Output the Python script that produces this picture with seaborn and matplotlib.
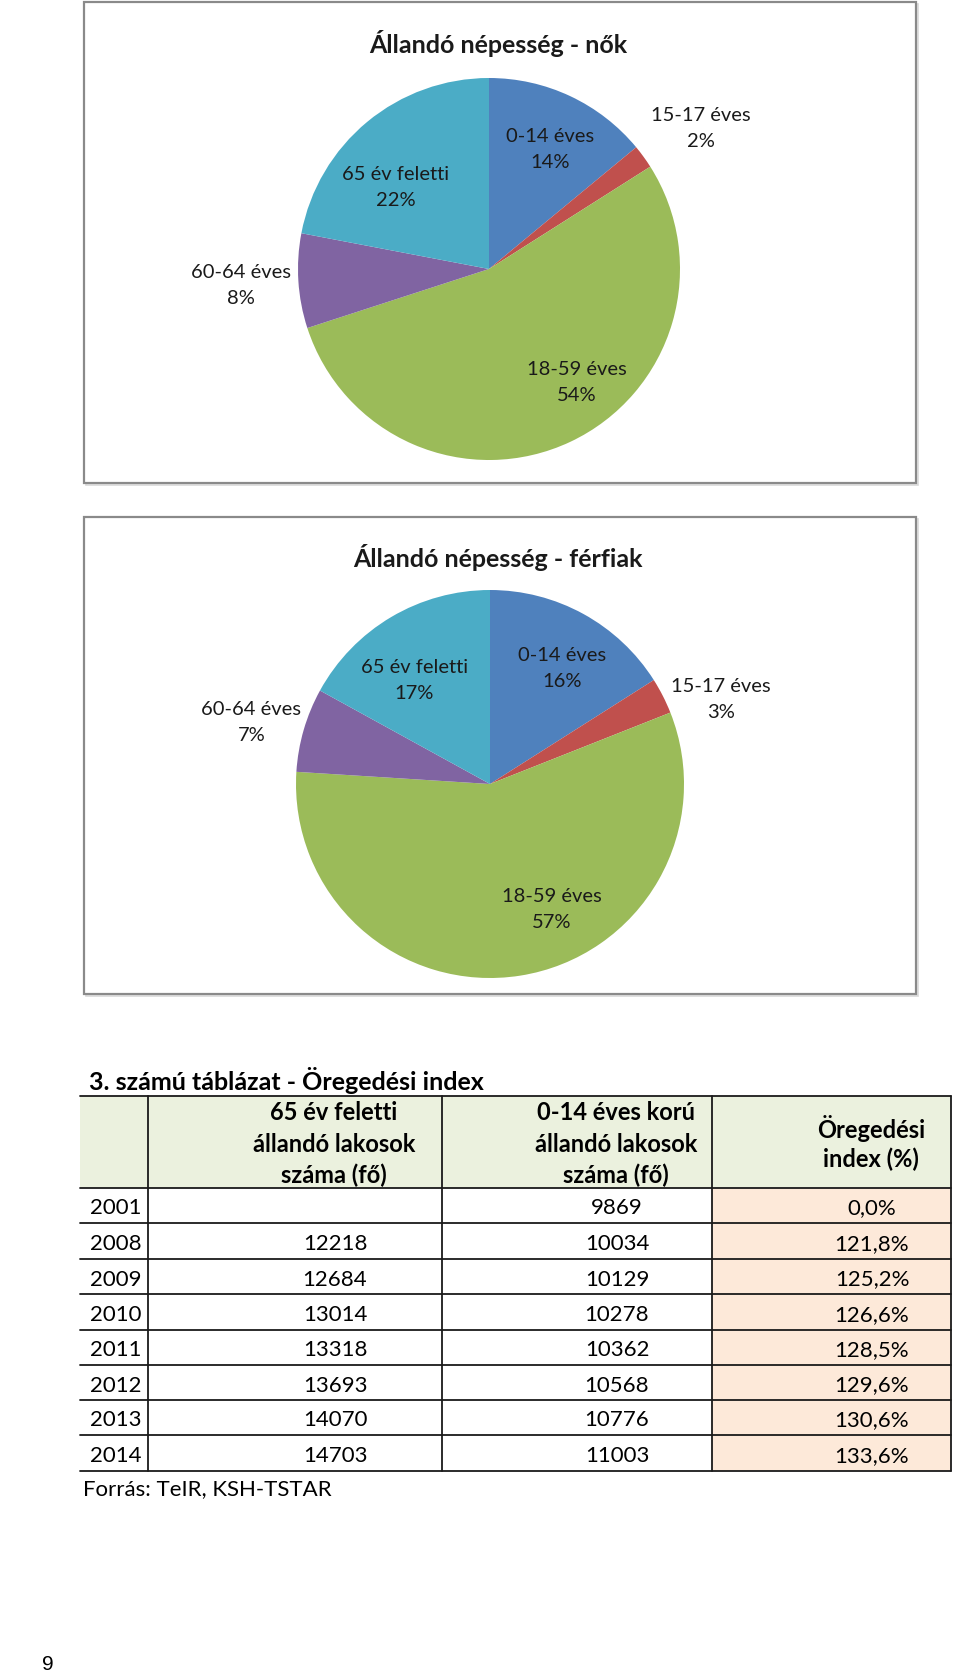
import matplotlib
matplotlib.use("Agg")
import matplotlib.pyplot as plt
from matplotlib.patches import Rectangle
import seaborn as sns
import pandas as pd

# ---------------- data ----------------
age_groups = ["0-14 éves", "15-17 éves", "18-59 éves", "60-64 éves", "65 év feletti"]
women_pct = [14, 2, 54, 8, 22]
men_pct = [16, 3, 57, 7, 17]
pie_titles = ["Állandó népesség - nők", "Állandó népesség - férfiak"]
slice_colors = ["#4F81BD", "#C0504D", "#9BBB59", "#8064A2", "#4BACC6"]

table_title = "3. számú táblázat - Öregedési index"
table_headers = ["", "65 év feletti\nállandó lakosok\nszáma (fő)",
                 "0-14 éves korú\nállandó lakosok\nszáma (fő)", "Öregedési\nindex (%)"]
years = ["2001", "2008", "2009", "2010", "2011", "2012", "2013", "2014"]
over65 = ["", "12218", "12684", "13014", "13318", "13693", "14070", "14703"]
under14 = ["9869", "10034", "10129", "10278", "10362", "10568", "10776", "11003"]
aging_index = ["0,0%", "121,8%", "125,2%", "126,6%", "128,5%", "129,6%", "130,6%", "133,6%"]
source_note = "Forrás: TeIR, KSH-TSTAR"
page_number = "9"

# ---------------- style ----------------
sns.set_theme(style="white")
plt.rcParams["font.family"] = ["Lato", "DejaVu Sans"]
palette = sns.color_palette(slice_colors)

W, H = 960, 1674
fig = plt.figure(figsize=(W / 100, H / 100), dpi=100)
bg = fig.add_axes([0, 0, 1, 1])
bg.set_xlim(0, W)
bg.set_ylim(H, 0)
bg.axis("off")

# label layouts (relative to pie radius)
women_label_pos = [(0.32, 0.63), (1.11, 0.74), (0.46, -0.59), (-1.30, -0.08), (-0.49, 0.43)]
men_label_pos = [(0.37, 0.60), (1.19, 0.44), (0.32, -0.64), (-1.23, 0.32), (-0.39, 0.54)]

charts = [
    dict(frame=(84, 3, 832, 481), title_y=43, cx=489, cy=270, r=191,
         values=women_pct, labels=women_label_pos, title=pie_titles[0]),
    dict(frame=(84, 518, 832, 477), title_y=557, cx=490, cy=785, r=194,
         values=men_pct, labels=men_label_pos, title=pie_titles[1]),
]

for ch in charts:
    x0, y0, w, h = ch["frame"]
    bg.add_patch(Rectangle((x0 + 2, y0 + 2), w, h, facecolor="none",
                           edgecolor="#d9d9d9", linewidth=1.2, zorder=1))
    bg.add_patch(Rectangle((x0, y0), w, h, facecolor="white",
                           edgecolor="#8a8a8a", linewidth=1.6, zorder=2))
    bg.text(498, ch["title_y"], ch["title"], ha="center", va="center",
            fontsize=18, fontweight="bold", color="#1a1a1a", zorder=3)
    cx, cy, r = ch["cx"], ch["cy"], ch["r"]
    ax = fig.add_axes([(cx - r) / W, (H - cy - r) / H, 2 * r / W, 2 * r / H])
    ax.pie(ch["values"], colors=palette, startangle=90, counterclock=False,
           radius=1, wedgeprops=dict(linewidth=0))
    ax.set_xlim(-1, 1)
    ax.set_ylim(-1, 1)
    ax.set_aspect("auto")
    ax.axis("off")
    for name, val, (lx, ly) in zip(age_groups, ch["values"], ch["labels"]):
        ax.text(lx, ly, f"{name}\n{val}%", ha="center", va="center",
                fontsize=14.5, color="#1a1a1a", linespacing=1.65, clip_on=False)

# ---------------- table ----------------
df = pd.DataFrame({"year": years, "over65": over65, "under14": under14, "index": aging_index})

col_edges = [80, 148, 442, 712, 951]
row_edges = [1097, 1189, 1224, 1260, 1295, 1331, 1366, 1401, 1436, 1472]
header_fill = "#EBF1DE"
index_fill = "#FDE9D9"
fs = 16
base_off = 8  # baseline offset below row middle (px)

bg.text(89, 1081, table_title, ha="left", va="center", fontsize=18,
        fontweight="bold", color="#000000")

# header background
bg.add_patch(Rectangle((col_edges[0], row_edges[0]), col_edges[-1] - col_edges[0],
                       row_edges[1] - row_edges[0], facecolor=header_fill,
                       edgecolor="none", zorder=1))
# index column background
bg.add_patch(Rectangle((col_edges[3], row_edges[1]), col_edges[4] - col_edges[3],
                       row_edges[-1] - row_edges[1], facecolor=index_fill,
                       edgecolor="none", zorder=1))

# grid lines
for y in row_edges:
    bg.plot([col_edges[0], col_edges[-1]], [y, y], color="#1a1a1a", lw=1.3, zorder=3)
for x in col_edges[1:]:
    bg.plot([x, x], [row_edges[0], row_edges[-1]], color="#1a1a1a", lw=1.3, zorder=3)

# header text
hmid = (row_edges[0] + row_edges[1]) / 2
header_centers = [None, 334, 616, 871]
for hdr, xc in zip(table_headers, header_centers):
    if not hdr:
        continue
    lines = hdr.split("\n")
    n = len(lines)
    for i, line in enumerate(lines):
        y = hmid + (i - (n - 1) / 2) * 31
        bg.text(xc, y + 1, line, ha="center", va="center", fontsize=17,
                fontweight="bold", color="#000000", zorder=4)

# body text
data_centers = [335, 617, 872]
for i, row in df.iterrows():
    ymid = (row_edges[i + 1] + row_edges[i + 2]) / 2 + base_off
    bg.text(90, ymid, row["year"], ha="left", va="baseline", fontsize=fs,
            color="#000000", zorder=4)
    for val, xc in zip([row["over65"], row["under14"], row["index"]], data_centers):
        if val:
            bg.text(xc, ymid, val, ha="center", va="baseline", fontsize=fs,
                    color="#000000", zorder=4)

bg.text(83, 1487 + base_off, source_note, ha="left", va="baseline", fontsize=fs,
        color="#000000")
bg.text(48, 1665, page_number, ha="center", va="center", fontsize=15,
        family=["Liberation Sans", "DejaVu Sans"], color="#000000")

fig.savefig("out.png", dpi=100, facecolor="white")
